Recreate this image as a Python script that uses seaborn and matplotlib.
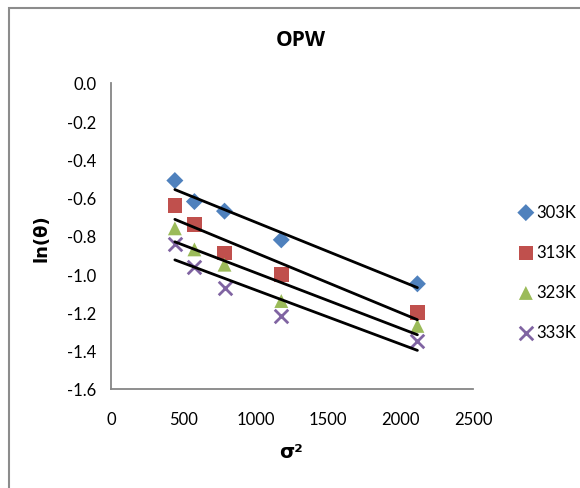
import matplotlib
matplotlib.use("Agg")
import matplotlib.pyplot as plt
from matplotlib.patches import Rectangle
import seaborn as sns
import pandas as pd

# ---- data ----
sigma2 = [441, 576, 784, 1176, 2116]
ln_theta_303K = [-0.51, -0.62, -0.67, -0.82, -1.05]
ln_theta_313K = [-0.64, -0.74, -0.89, -1.00, -1.20]
ln_theta_323K = [-0.76, -0.87, -0.95, -1.14, -1.27]
ln_theta_333K = [-0.84, -0.96, -1.07, -1.22, -1.35]
temperatures = ["303K", "313K", "323K", "333K"]
x_ticks = [0, 500, 1000, 1500, 2000, 2500]
y_ticks = [0.0, -0.2, -0.4, -0.6, -0.8, -1.0, -1.2, -1.4, -1.6]

series = [ln_theta_303K, ln_theta_313K, ln_theta_323K, ln_theta_333K]
colors = ["#4F81BD", "#C0504D", "#9BBB59", "#8064A2"]
markers = ["D", "s", "^", "x"]
sizes = [75, 110, 100, 95]

sns.set_theme(style="white")
plt.rcParams["font.family"] = ["Lato", "DejaVu Sans"]
plt.rcParams["text.color"] = "black"

fig = plt.figure(figsize=(5.8, 4.89), dpi=100)
ax = fig.add_axes([111 / 580, 1 - 390 / 489, (473 - 111) / 580, (390 - 84) / 489])

for temp, vals, c, m, s in zip(temperatures, series, colors, markers, sizes):
    df = pd.DataFrame({"sigma2": sigma2, "ln_theta": vals})
    if m == "x":
        sns.scatterplot(data=df, x="sigma2", y="ln_theta", ax=ax, color=c,
                        marker=m, s=s, linewidth=2, label=temp, zorder=3)
    else:
        sns.scatterplot(data=df, x="sigma2", y="ln_theta", ax=ax, color=c,
                        marker=m, s=s, edgecolor="none", label=temp, zorder=3)
    sns.regplot(data=df, x="sigma2", y="ln_theta", ax=ax, scatter=False,
                ci=None, color="black", line_kws={"lw": 2, "zorder": 4})

ax.set_xlim(0, 2500)
ax.set_ylim(-1.6, 0.0)
ax.set_xticks(x_ticks)
ax.set_xticklabels([str(t) for t in x_ticks])
ax.set_yticks(y_ticks)
ax.set_yticklabels([f"{t:.1f}" for t in y_ticks])
for side in ["top", "right"]:
    ax.spines[side].set_visible(False)
for side in ["left", "bottom"]:
    ax.spines[side].set_color("#868686")
    ax.spines[side].set_linewidth(1.3)
ax.tick_params(axis="both", direction="out", length=5.5, width=1.3,
               color="#868686", labelsize=12, labelcolor="black")
ax.tick_params(axis="x", pad=10)
ax.tick_params(axis="y", pad=5)
ax.set_xlabel("")
ax.set_ylabel("")

fig.text(301 / 580, 1 - 41 / 489, "OPW", ha="center", va="center",
         fontsize=15, fontweight="bold", color="black",
         family=["Open Sans", "DejaVu Sans"])
fig.text(42 / 580, 1 - 238 / 489, "ln(θ)", ha="center", va="center",
         rotation=90, fontsize=13, fontweight="bold", color="black",
         family=["DejaVu Sans"])
fig.text(291 / 580, 1 - 453 / 489, "σ²", ha="center", va="center",
         fontsize=14, fontweight="bold", color="black", family=["DejaVu Sans"])

h, l = ax.get_legend_handles_labels()
if ax.get_legend():
    ax.get_legend().remove()
fig.legend(h, l, loc="upper left", bbox_to_anchor=(515 / 580, 1 - 205 / 489),
           frameon=False, fontsize=12, labelspacing=1.45, handletextpad=0.0,
           handlelength=1.3, markerscale=1.0, borderaxespad=0, borderpad=0)

fig.patches.append(Rectangle((9 / 580, -0.1), 1.2, 1.1 - 9 / 489,
                             transform=fig.transFigure, fill=False,
                             edgecolor="#8c8c8c", lw=1.5, zorder=0))

fig.savefig("out.png", dpi=100)
